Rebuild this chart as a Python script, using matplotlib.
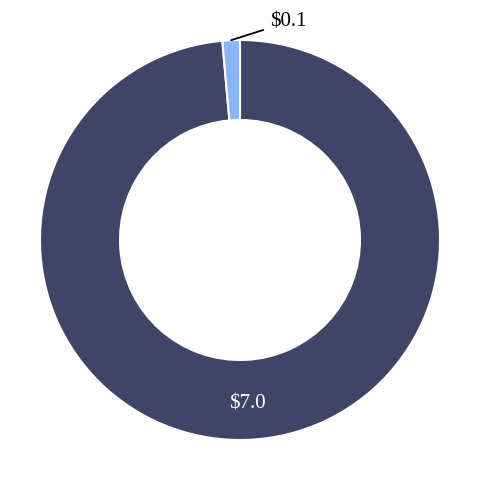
import numpy as np
import matplotlib
matplotlib.use("Agg")
from matplotlib import pyplot as plt

plt.rcParams["font.family"] = ["Liberation Serif", "DejaVu Serif"]

# slice values (billions) and their labels
values = [7.0, 0.1]
labels = ["$7.0", "$0.1"]
colors = ["#3f4566", "#8ab4f8"]

fig = plt.figure(figsize=(4.8, 4.8), dpi=100)
ax = fig.add_axes([0, 0, 1, 1])

wedges, _ = ax.pie(
    values,
    colors=colors,
    startangle=90,
    counterclock=False,
    radius=1.0,
    wedgeprops=dict(width=0.4, edgecolor="white", linewidth=1.5),
)

# big slice: label inside the ring
w = wedges[0]
mid = np.deg2rad((w.theta1 + w.theta2) / 2)
ax.text(0.82 * np.cos(mid), 0.82 * np.sin(mid), labels[0],
        color="white", fontsize=15, ha="center", va="center")

# small slice: label outside with a leader line
w = wedges[1]
mid = np.deg2rad((w.theta1 + w.theta2) / 2)
ax.annotate(labels[1], xy=(np.cos(mid), np.sin(mid)), xytext=(0.15, 1.09),
            fontsize=15, ha="left", va="center", color="black",
            arrowprops=dict(arrowstyle="-", color="black", lw=1.3,
                            shrinkA=3, shrinkB=0))

ax.set_xlim(-1.2, 1.2)
ax.set_ylim(-1.2, 1.2)
ax.set_aspect("equal")
ax.axis("off")

fig.savefig("out.png", dpi=100)
